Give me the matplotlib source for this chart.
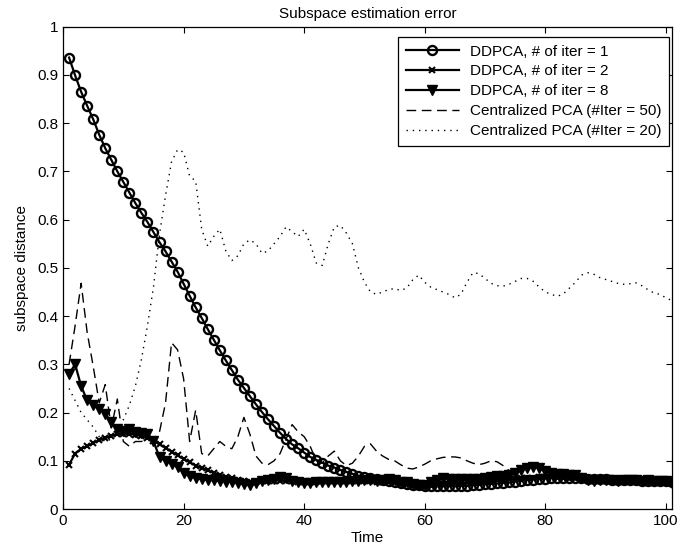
import numpy as np
import matplotlib
matplotlib.use("Agg")
import matplotlib.pyplot as plt

plt.rcParams['font.family'] = ['Liberation Sans', 'DejaVu Sans']

time = np.arange(1, 102)

iter1 = [0.936, 0.899, 0.865, 0.836, 0.808, 0.776, 0.748, 0.724, 0.700, 0.678,
         0.656, 0.634, 0.614, 0.595, 0.574, 0.553, 0.534, 0.513, 0.492, 0.467,
         0.442, 0.418, 0.396, 0.373, 0.351, 0.329, 0.308, 0.288, 0.268, 0.251,
         0.234, 0.217, 0.201, 0.186, 0.172, 0.158, 0.145, 0.134, 0.126, 0.117,
         0.108, 0.102, 0.096, 0.090, 0.086, 0.081, 0.077, 0.073, 0.069, 0.066,
         0.064, 0.062, 0.060, 0.058, 0.056, 0.054, 0.052, 0.050, 0.049, 0.048,
         0.047, 0.047, 0.047, 0.047, 0.047, 0.048, 0.048, 0.049, 0.050, 0.051,
         0.052, 0.053, 0.054, 0.055, 0.057, 0.058, 0.060, 0.061, 0.062, 0.063,
         0.064, 0.064, 0.065, 0.065, 0.065, 0.064, 0.063, 0.063, 0.062, 0.062,
         0.061, 0.061, 0.060, 0.060, 0.060, 0.059, 0.059, 0.059, 0.058, 0.058,
         0.057]

iter2 = [0.092, 0.115, 0.125, 0.130, 0.137, 0.143, 0.148, 0.152, 0.155, 0.156,
         0.156, 0.154, 0.151, 0.147, 0.141, 0.134, 0.127, 0.119, 0.111, 0.104,
         0.097, 0.090, 0.085, 0.080, 0.075, 0.071, 0.067, 0.064, 0.061, 0.058,
         0.057, 0.057, 0.058, 0.058, 0.059, 0.059, 0.058, 0.058, 0.057, 0.057,
         0.057, 0.057, 0.058, 0.058, 0.058, 0.059, 0.059, 0.059, 0.059, 0.058,
         0.058, 0.057, 0.057, 0.056, 0.055, 0.054, 0.053, 0.052, 0.051, 0.050,
         0.050, 0.050, 0.051, 0.052, 0.053, 0.054, 0.055, 0.056, 0.057, 0.058,
         0.059, 0.060, 0.061, 0.062, 0.063, 0.064, 0.065, 0.065, 0.066, 0.066,
         0.066, 0.066, 0.065, 0.065, 0.064, 0.064, 0.063, 0.063, 0.062, 0.062,
         0.062, 0.061, 0.061, 0.061, 0.060, 0.060, 0.060, 0.059, 0.059, 0.059,
         0.058]

iter8 = [0.280, 0.300, 0.255, 0.225, 0.215, 0.208, 0.198, 0.180, 0.165, 0.162,
         0.165, 0.160, 0.158, 0.155, 0.140, 0.108, 0.100, 0.094, 0.087, 0.075,
         0.068, 0.064, 0.062, 0.060, 0.060, 0.058, 0.057, 0.056, 0.054, 0.051,
         0.049, 0.053, 0.058, 0.060, 0.062, 0.067, 0.064, 0.058, 0.055, 0.054,
         0.054, 0.055, 0.055, 0.056, 0.056, 0.057, 0.057, 0.058, 0.059, 0.060,
         0.060, 0.058, 0.060, 0.062, 0.060, 0.057, 0.055, 0.051, 0.049, 0.050,
         0.055, 0.060, 0.064, 0.063, 0.062, 0.062, 0.062, 0.063, 0.063, 0.065,
         0.067, 0.068, 0.068, 0.070, 0.075, 0.080, 0.085, 0.087, 0.085, 0.078,
         0.074, 0.072, 0.072, 0.071, 0.070, 0.064, 0.060, 0.059, 0.060, 0.061,
         0.060, 0.059, 0.060, 0.061, 0.060, 0.059, 0.060, 0.059, 0.058, 0.058,
         0.053]

central50 = [0.300, 0.380, 0.468, 0.366, 0.296, 0.220, 0.258, 0.168, 0.228, 0.140,
             0.130, 0.140, 0.140, 0.145, 0.145, 0.160, 0.220, 0.345, 0.330, 0.270,
             0.140, 0.205, 0.115, 0.110, 0.125, 0.140, 0.130, 0.125, 0.150, 0.190,
             0.155, 0.110, 0.095, 0.092, 0.100, 0.115, 0.145, 0.175, 0.160, 0.150,
             0.130, 0.100, 0.095, 0.110, 0.120, 0.100, 0.090, 0.095, 0.110, 0.130,
             0.135, 0.120, 0.110, 0.103, 0.100, 0.092, 0.085, 0.083, 0.087, 0.093,
             0.100, 0.104, 0.107, 0.108, 0.108, 0.106, 0.100, 0.095, 0.092, 0.095,
             0.100, 0.098, 0.090, 0.080, 0.072, 0.068, 0.066, 0.066, 0.065, 0.064,
             0.064, 0.064, 0.063, 0.063, 0.063, 0.062, 0.062, 0.062, 0.061, 0.061,
             0.061, 0.060, 0.060, 0.060, 0.060, 0.059, 0.059, 0.059, 0.058, 0.058,
             0.058]

central20 = [0.250, 0.225, 0.200, 0.185, 0.170, 0.150, 0.140, 0.145, 0.160, 0.185,
             0.215, 0.255, 0.310, 0.380, 0.460, 0.570, 0.650, 0.720, 0.745, 0.740,
             0.690, 0.680, 0.580, 0.545, 0.565, 0.580, 0.535, 0.515, 0.525, 0.550,
             0.558, 0.550, 0.530, 0.535, 0.550, 0.565, 0.585, 0.575, 0.565, 0.580,
             0.550, 0.510, 0.505, 0.550, 0.585, 0.588, 0.572, 0.550, 0.500, 0.470,
             0.450, 0.445, 0.450, 0.455, 0.457, 0.453, 0.458, 0.475, 0.485, 0.470,
             0.460, 0.455, 0.450, 0.445, 0.438, 0.445, 0.470, 0.490, 0.488, 0.478,
             0.468, 0.463, 0.462, 0.466, 0.472, 0.478, 0.478, 0.472, 0.460, 0.450,
             0.445, 0.441, 0.446, 0.458, 0.470, 0.485, 0.490, 0.487, 0.480, 0.476,
             0.472, 0.468, 0.466, 0.467, 0.469, 0.463, 0.455, 0.448, 0.445, 0.438,
             0.432]

labels = ["DDPCA, # of iter = 1", "DDPCA, # of iter = 2", "DDPCA, # of iter = 8",
          "Centralized PCA (#Iter = 50)", "Centralized PCA (#Iter = 20)"]

fig = plt.figure(figsize=(6.78, 5.5), dpi=100)
ax = fig.add_axes([0.093, 0.0745, 0.898, 0.877])

ax.plot(time, iter1, '-o', color='k', lw=1.6, ms=6.5, mew=1.7, mfc='none', label=labels[0])
ax.plot(time, iter2, '-x', color='k', lw=1.6, ms=4, mew=1.5, label=labels[1])
ax.plot(time, iter8, '-v', color='k', lw=1.6, ms=7, mew=1.0, mfc='k', label=labels[2])
ax.plot(time, central50, color='k', lw=1.0, ls=(0, (7, 4)), label=labels[3])
ax.plot(time, central20, color='k', lw=1.0, ls=(0, (1, 3.5)), label=labels[4])

ax.set_xlim(0, 101)
ax.set_ylim(0, 1)
ax.set_xticks([0, 20, 40, 60, 80, 100])
ax.set_yticks(np.arange(0, 1.01, 0.1))
ax.set_yticklabels(["0", "0.1", "0.2", "0.3", "0.4", "0.5", "0.6", "0.7", "0.8", "0.9", "1"])
ax.tick_params(direction='in', top=True, right=True, labelsize=11, length=4, width=0.8)
for s in ax.spines.values():
    s.set_linewidth(0.9)

ax.set_xlabel("Time", fontsize=11, labelpad=2)
ax.set_ylabel("subspace distance", fontsize=11, labelpad=6)
ax.set_title("Subspace estimation error", fontsize=11, pad=6)

leg = ax.legend(loc='upper right', bbox_to_anchor=(0.9953, 0.9785), fontsize=11,
                handlelength=3.5, handletextpad=0.7, labelspacing=0.38,
                borderpad=0.5, borderaxespad=0.0,
                fancybox=False, framealpha=1, edgecolor='k')
leg.get_frame().set_linewidth(0.9)

plt.savefig("out.png", dpi=100)
